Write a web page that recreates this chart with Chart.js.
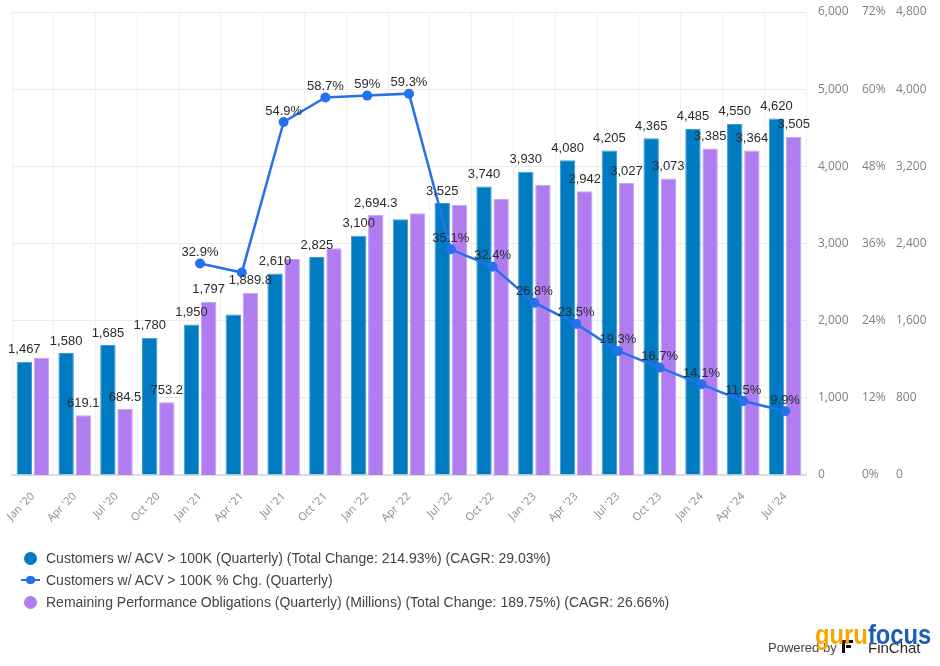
<!DOCTYPE html>
<html><head><meta charset="utf-8">
<script src="https://cdn.jsdelivr.net/npm/chart.js@4.4.1/dist/chart.umd.min.js"></script>
<style>
html,body{margin:0;padding:0;background:#fff;}
#wrap{position:relative;width:940px;height:666px;overflow:hidden;}
#c{position:absolute;left:0;top:0;}
.item{position:absolute;left:0;height:22px;width:900px;font:14px/22px "Liberation Sans",Arial,sans-serif;color:#444;white-space:nowrap;}
.item span{position:absolute;left:46px;top:0;}
.dot{position:absolute;left:23.5px;top:4.5px;width:13px;height:13px;border-radius:50%;}
.ln{position:absolute;left:21px;top:9.8px;width:19px;height:2.5px;}
.ld{position:absolute;left:26px;top:6.8px;width:8.5px;height:8.5px;border-radius:50%;}
.abs{position:absolute;white-space:nowrap;line-height:1;}
#pw{left:768px;top:640px;font:13px "Liberation Sans",Arial,sans-serif;color:#444;}
#fc{left:868px;top:639.3px;font:15px "Liberation Sans",Arial,sans-serif;color:#2a2a2a;}
#gf{left:815px;top:619.3px;font:bold 28px "Liberation Sans",Arial,sans-serif;transform:scaleX(0.85);transform-origin:0 0;}
.ic{position:absolute;background:#111;}
</style></head>
<body><div id="wrap"><canvas id="c" width="940" height="666"></canvas><div id="legend"></div>
<span class="abs" id="pw">Powered by</span>
<div class="ic" style="left:842px;top:640px;width:3px;height:13px"></div>
<div class="ic" style="left:842px;top:640px;width:11px;height:3px"></div>
<div class="ic" style="left:846px;top:645px;width:5px;height:3px"></div>
<span class="abs" id="fc">FinChat</span>
<span class="abs" id="gf"><span style="color:#F7A800">guru</span><span style="color:#1A5EB8">focus</span></span>
</div>
<script>
const categories = ["Jan '20","Apr '20","Jul '20","Oct '20","Jan '21","Apr '21","Jul '21","Oct '21","Jan '22","Apr '22","Jul '22","Oct '22","Jan '23","Apr '23","Jul '23","Oct '23","Jan '24","Apr '24","Jul '24"];
const customers = [1467,1580,1685,1780,1950,2080,2610,2825,3100,3315,3525,3740,3930,4080,4205,4365,4485,4550,4620];
const customersPctChg = [null,null,null,null,32.9,31.5,54.9,58.7,59,59.3,35.1,32.4,26.8,23.5,19.3,16.7,14.1,11.5,9.9];
const rpo = [1216,619.1,684.5,753.2,1797,1889.8,2239,2350,2694.3,2713,2799,2861,3006,2942,3027,3073,3385,3364,3505];
const showCustomersLabel = [1,1,1,1,1,0,1,1,1,0,1,1,1,1,1,1,1,1,1];
const showPctLabel = [0,0,0,0,1,0,1,1,1,1,1,1,1,1,1,1,1,1,1];
const showRpoLabel = [0,1,1,1,1,1,0,0,1,0,0,0,0,1,1,1,1,1,1];
const customersTicks = [0,1000,2000,3000,4000,5000,6000];
const pctTicks = [0,12,24,36,48,60,72];
const rpoTicks = [0,800,1600,2400,3200,4000,4800];
const seriesNames = [
 "Customers w/ ACV > 100K (Quarterly) (Total Change: 214.93%) (CAGR: 29.03%)",
 "Customers w/ ACV > 100K % Chg. (Quarterly)",
 "Remaining Performance Obligations (Quarterly) (Millions) (Total Change: 189.75%) (CAGR: 26.66%)"
];
const BLUE='#007BC2', PURPLE='#AF7DF0', LINE='#2571EB';

const fmt = v => v.toLocaleString('en-US',{maximumFractionDigits:1});
const labelFlags = [showCustomersLabel, showPctLabel, showRpoLabel];
const labelFmt = [fmt, v => v + '%', fmt];

const labelPlugin = {
  id:'dl',
  afterDatasetsDraw(chart){
    const ctx = chart.ctx;
    ctx.save();
    ctx.font = '13px "Liberation Sans", Arial, sans-serif';
    ctx.fillStyle = '#2b2b2b';
    ctx.textAlign = 'center';
    ctx.textBaseline = 'middle';
    chart.data.datasets.forEach((ds, i) => {
      const meta = chart.getDatasetMeta(i);
      meta.data.forEach((el, j) => {
        const v = ds.data[j];
        if (v == null || !labelFlags[i][j]) return;
        const off = i === 1 ? 11 : 12;
        ctx.fillText(labelFmt[i](v), el.x, el.y - off);
      });
    });
    ctx.restore();
  }
};

const tickFont = {family:'"Open Sans", sans-serif', size:12};
const fixed = (vals) => (scale) => { scale.ticks = vals.map(v => ({value:v})); };
const fitY = (w) => (s) => { s.width = w; s.paddingTop = 0; s.paddingBottom = 0; };

new Chart(document.getElementById('c'), {
  data:{
    labels: categories,
    datasets:[
      {type:'bar', label:seriesNames[0], data:customers, backgroundColor:BLUE, borderColor:'#3d9bd4', borderWidth:1, yAxisID:'y', order:1, categoryPercentage:0.82, barPercentage:0.9},
      {type:'line', label:seriesNames[1], data:customersPctChg, borderColor:LINE, backgroundColor:LINE, borderWidth:2.5, pointRadius:5, pointBorderWidth:0, pointBackgroundColor:LINE, yAxisID:'y2', order:0, spanGaps:false},
      {type:'bar', label:seriesNames[2], data:rpo, backgroundColor:PURPLE, borderColor:'#c5a3f6', borderWidth:1, yAxisID:'y3', order:1, categoryPercentage:0.82, barPercentage:0.9}
    ]
  },
  options:{
    responsive:false, animation:false, devicePixelRatio:1,
    layout:{padding:{left:12, right:0, top:12, bottom:131}},
    plugins:{legend:{display:false}, tooltip:{enabled:false}},
    scales:{
      x:{
        grid:{color:'#f1f1f1', drawTicks:false},
        border:{color:'#dcdcdc', width:2},
        ticks:{font:{family:'"Open Sans", sans-serif', size:11}, color:'#8a8a8a', maxRotation:45, minRotation:45, autoSkip:false, padding:15},
        afterFit:(s)=>{ s.height = 60; s.paddingLeft = 0; s.paddingRight = 0; }
      },
      y:{
        position:'right', min:0, max:6000,
        afterBuildTicks: fixed(customersTicks),
        grid:{color:'#ebebeb', drawTicks:false},
        border:{display:false},
        ticks:{font:tickFont, color:'#808080', padding:12, callback:v=>v.toLocaleString('en-US')},
        afterFit: fitY(44)
      },
      y2:{
        position:'right', min:0, max:72,
        afterBuildTicks: fixed(pctTicks),
        grid:{display:false, drawTicks:false},
        border:{display:false},
        ticks:{font:tickFont, color:'#808080', padding:12, callback:v=>v+'%'},
        afterFit: fitY(36)
      },
      y3:{
        position:'right', min:0, max:4800,
        afterBuildTicks: fixed(rpoTicks),
        grid:{display:false, drawTicks:false},
        border:{display:false},
        ticks:{font:tickFont, color:'#808080', padding:10, callback:v=>v.toLocaleString('en-US')},
        afterFit: fitY(54)
      }
    }
  },
  plugins:[labelPlugin]
});

const lg = document.getElementById('legend');
const legendColors = [BLUE, LINE, PURPLE];
seriesNames.forEach((n, i) => {
  const it = document.createElement('div'); it.className='item';
  it.style.top = (547 + 22*i) + 'px';
  if (i === 1) {
    it.innerHTML = '<div class="ln" style="background:'+legendColors[i]+'"></div><div class="ld" style="background:'+legendColors[i]+'"></div>';
  } else {
    it.innerHTML = '<div class="dot" style="background:'+legendColors[i]+'"></div>';
  }
  const tx = document.createElement('span'); tx.textContent = n;
  it.appendChild(tx); lg.appendChild(it);
});
</script>
</body></html>
